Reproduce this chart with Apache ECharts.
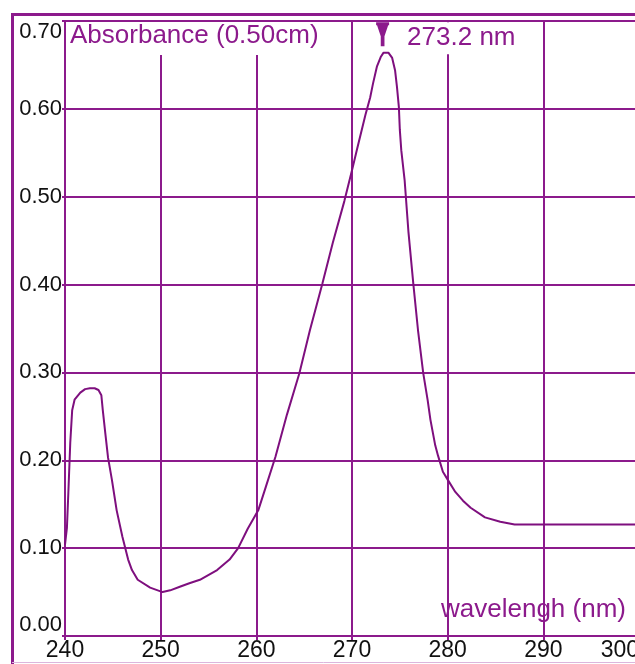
<!DOCTYPE html>
<html>
<head>
<meta charset="utf-8">
<script src="https://cdn.jsdelivr.net/npm/echarts@6/dist/echarts.min.js"></script>
<style>
html,body{margin:0;padding:0;background:#fff;}
#chart{width:635px;height:664px;}
</style>
</head>
<body>
<div id="chart"></div>
<script>
// Wavelength (nm) and absorbance
var wavelengths = [
  240.0, 240.2, 240.35, 240.55, 240.75, 241.0, 241.6, 242.1, 242.6, 243.1,
  243.5, 243.8, 243.95, 244.2, 244.5, 244.9, 245.4, 246.0, 246.6, 247.0,
  247.6, 248.9, 250.2, 251.0, 252.0, 253.0, 254.1, 255.9, 257.2, 258.1,
  259.1, 260.2, 261.0, 262.0, 263.2, 264.5, 265.6, 266.9, 268.0, 269.2,
  270.0, 270.5, 271.4, 271.9, 272.2, 272.6, 273.0, 273.3, 273.8, 274.2,
  274.5, 274.7, 274.9, 275.0, 275.15, 275.5, 275.9, 276.4, 276.9, 277.45,
  277.9, 278.2, 278.7, 279.0, 279.5, 280.0, 280.8, 281.6, 282.4, 283.9,
  285.5, 287.0, 300.0
];
var absorbance = [
  0.104, 0.123, 0.163, 0.220, 0.257, 0.269, 0.277, 0.281, 0.282, 0.282,
  0.280, 0.274, 0.257, 0.232, 0.203, 0.178, 0.143, 0.113, 0.087, 0.075,
  0.064, 0.055, 0.050, 0.052, 0.056, 0.060, 0.064, 0.075, 0.087, 0.100,
  0.122, 0.143, 0.170, 0.204, 0.252, 0.299, 0.348, 0.401, 0.448, 0.495,
  0.530, 0.553, 0.593, 0.613, 0.629, 0.648, 0.659, 0.664, 0.664, 0.658,
  0.644, 0.625, 0.602, 0.576, 0.553, 0.519, 0.460, 0.402, 0.348, 0.299,
  0.269, 0.246, 0.217, 0.205, 0.187, 0.178, 0.164, 0.154, 0.146, 0.135,
  0.130, 0.127, 0.127
];
var xTicks = [240, 250, 260, 270, 280, 290, 300];
var yTicks = ['0.00','0.10','0.20','0.30','0.40','0.50','0.60','0.70'];
var peakWavelength = 273.2;
var peakMarkerLevel = 0.685;
var peakLabel = '273.2 nm';
var yTitle = 'Absorbance (0.50cm)';
var xTitle = 'wavelengh (nm)';

var PURPLE = '#8c1a8c';
var LINE = '#7e0f7e';
var SANS = "'Liberation Sans', Arial, sans-serif";

var chart = echarts.init(document.getElementById('chart'), null, {renderer: 'canvas'});
var seriesData = wavelengths.map(function (w, i) { return [w, absorbance[i]]; });

chart.setOption({
  animation: false,
  backgroundColor: '#fff',
  grid: {left: 65, top: 21, width: 574, height: 615, containLabel: false, outerBoundsMode: 'none'},
  title: [
    {
      text: yTitle, left: 66, top: 22, padding: [1, 4, 6, 4],
      backgroundColor: '#fff',
      textStyle: {color: PURPLE, fontSize: 26, fontWeight: 'normal', fontFamily: SANS, lineHeight: 26}
    },
    {
      text: xTitle, left: 441, top: 596, padding: 0,
      textStyle: {color: PURPLE, fontSize: 26, fontWeight: 'normal', fontFamily: SANS, lineHeight: 28}
    }
  ],
  xAxis: {
    type: 'value', min: xTicks[0], max: xTicks[xTicks.length - 1], interval: 10,
    axisLine: {lineStyle: {color: PURPLE, width: 2}},
    axisTick: {show: true, length: 4, lineStyle: {color: PURPLE, width: 2}},
    splitLine: {show: true, lineStyle: {color: PURPLE, width: 2}},
    axisLabel: {color: '#111', fontSize: 23, fontFamily: SANS, margin: 3, alignMaxLabel: 'right',
      formatter: function (v) { return String(v); }}
  },
  yAxis: {
    type: 'value', min: 0, max: 0.7, interval: 0.1,
    axisLine: {show: true, lineStyle: {color: PURPLE, width: 2}},
    axisTick: {show: true, length: 3, lineStyle: {color: PURPLE, width: 2}},
    splitLine: {show: true, lineStyle: {color: PURPLE, width: 2}},
    axisLabel: {color: '#111', fontSize: 22, fontFamily: SANS, margin: 3,
      verticalAlignMinLabel: 'bottom', verticalAlignMaxLabel: 'top',
      formatter: function (v) { return yTicks[Math.round(v * 10)]; }}
  },
  series: [{
    type: 'line',
    data: seriesData,
    showSymbol: false,
    lineStyle: {color: LINE, width: 2},
    itemStyle: {color: LINE},
    markPoint: {
      symbol: 'path://M0,0 H14 V3 H13 L9,14 V24 H5 V14 L1,3 H0 Z',
      symbolSize: [13, 24],
      itemStyle: {color: PURPLE},
      data: [{coord: [peakWavelength, peakMarkerLevel]}],
      label: {
        show: true, position: 'right', distance: 14, offset: [0, 4],
        formatter: peakLabel, color: PURPLE, fontSize: 26, fontFamily: SANS,
        backgroundColor: '#fff', padding: [1, 4, 5, 4], lineHeight: 26
      }
    }
  }],
  graphic: [
    {type: 'line', shape: {x1: 11, y1: 14.5, x2: 635, y2: 14.5}, style: {stroke: PURPLE, lineWidth: 3}, z: 100},
    {type: 'line', shape: {x1: 12.5, y1: 13, x2: 12.5, y2: 664}, style: {stroke: PURPLE, lineWidth: 3}, z: 100},
    {type: 'line', shape: {x1: 12, y1: 662.5, x2: 635, y2: 662.5}, style: {stroke: '#dcb6dc', lineWidth: 1}, z: 100}
  ]
});
</script>
</body>
</html>
